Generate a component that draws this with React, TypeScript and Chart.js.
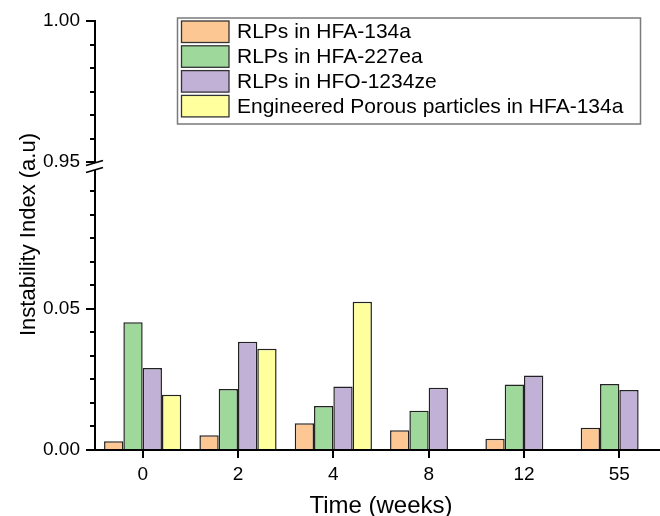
import React, { useEffect, useRef } from 'react';
import { Chart, registerables } from 'chart.js';

Chart.register(...registerables);

// ---- data ----
const categories = ['0', '2', '4', '8', '12', '55'];
const seriesLabels = [
  'RLPs in HFA-134a',
  'RLPs in HFA-227ea',
  'RLPs in HFO-1234ze',
  'Engineered Porous particles in HFA-134a',
];
const rlpHFA134a = [0.0031, 0.0052, 0.0095, 0.0070, 0.0040, 0.0079];
const rlpHFA227ea = [0.0453, 0.0216, 0.0156, 0.0139, 0.0232, 0.0234];
const rlpHFO1234ze = [0.0291, 0.0384, 0.0225, 0.0221, 0.0264, 0.0213];
const porousHFA134a = [0.0196, 0.0359, 0.0526, null, null, null];
const seriesColors = ['#FDC794', '#9ED89B', '#C1B1D7', '#FFFF9E'];

const lowerTicks = [0, 0.05];
const upperTicks = [0.95, 1.0];
const lowerRange = [0, 0.1021];
const upperRange = [0.95, 1.0];
const minorIntervals = 6; // minor subdivisions per 0.05

const xTitle = 'Time (weeks)';
const yTitle = 'Instability Index (a.u)';

const FONT = '"Liberation Sans", Arial, Helvetica, sans-serif';

const decorations = {
  id: 'decorations',
  afterDraw(chart: any) {
    const ctx = chart.ctx as CanvasRenderingContext2D;
    const yl = chart.scales.y;
    const yu = chart.scales.yTop;
    const ax = chart.chartArea.left;
    ctx.save();
    ctx.strokeStyle = '#000';
    ctx.lineWidth = 2;
    const step = 0.05 / minorIntervals;
    const line = (x1: number, y1: number, x2: number, y2: number) => {
      ctx.beginPath();
      ctx.moveTo(x1, y1);
      ctx.lineTo(x2, y2);
      ctx.stroke();
    };
    // minor ticks lower
    for (let k = 1; k < minorIntervals * 2; k++) {
      if (k % minorIntervals === 0) continue;
      const py = Math.round(yl.getPixelForValue(k * step));
      if (py < yl.top + 4) continue;
      line(ax - 5, py, ax, py);
    }
    // minor ticks upper
    for (let k = 1; k < minorIntervals; k++) {
      const py = Math.round(yu.getPixelForValue(upperRange[0] + k * step));
      line(ax - 5, py, ax, py);
    }
    // axis break
    const by = yl.top;
    ctx.fillStyle = '#fff';
    ctx.fillRect(ax - 3, by + 1, 5, 7);
    ctx.lineWidth = 1.8;
    line(ax - 9, by + 3.5, ax + 8, by - 1.5);
    line(ax - 9, by + 10.5, ax + 8, by + 5.5);

    // legend
    const lx = 177.5, ly = 18, lw = 463, lh = 106;
    ctx.lineWidth = 1.5;
    ctx.strokeStyle = '#7a7a7a';
    ctx.strokeRect(lx, ly, lw, lh);
    ctx.font = `21px ${FONT}`;
    ctx.textAlign = 'left';
    ctx.textBaseline = 'alphabetic';
    chart.data.datasets.forEach((ds: any, i: number) => {
      const top = 21 + 24.8 * i;
      ctx.fillStyle = ds.backgroundColor;
      ctx.fillRect(181.5, top, 47.5, 21.5);
      ctx.strokeStyle = '#333';
      ctx.lineWidth = 1.3;
      ctx.strokeRect(181.5, top, 47.5, 21.5);
      ctx.fillStyle = '#000';
      ctx.fillText(ds.label, 237, 37.5 + 25 * i);
    });

    // titles
    ctx.fillStyle = '#000';
    ctx.font = `24px ${FONT}`;
    ctx.textAlign = 'center';
    ctx.textBaseline = 'alphabetic';
    const ca = chart.chartArea;
    ctx.fillText(xTitle, (ca.left + ca.right) / 2, 513);
    ctx.font = `22px ${FONT}`;
    ctx.translate(35, 234.5);
    ctx.rotate(-Math.PI / 2);
    ctx.fillText(yTitle, 0, 0);
    ctx.restore();
  },
};

export default function App() {
  const ref = useRef<HTMLCanvasElement | null>(null);
  useEffect(() => {
    if (!ref.current) return;
    const seriesData = [rlpHFA134a, rlpHFA227ea, rlpHFO1234ze, porousHFA134a];
    const yCommon = (ticks: number[]) => ({
      type: 'linear' as const,
      position: 'left' as const,
      stack: 'broken',
      afterBuildTicks: (s: any) => {
        s.ticks = ticks.map((v) => ({ value: v }));
      },
      afterFit: (s: any) => {
        s.width = 95;
      },
      grid: {
        drawOnChartArea: false,
        drawTicks: true,
        tickLength: 9,
        color: '#000',
        lineWidth: 2,
      },
      border: { display: true, color: '#000', width: 2 },
      ticks: {
        padding: 6,
        color: '#000',
        font: { family: FONT, size: 19 },
        callback: (v: any) => Number(v).toFixed(2),
      },
    });
    const chart = new Chart(ref.current, {
      type: 'bar',
      data: {
        labels: categories,
        datasets: seriesData.map((d, i) => ({
          label: seriesLabels[i],
          data: d as any,
          backgroundColor: seriesColors[i],
          borderColor: '#222',
          borderWidth: 1.5,
          yAxisID: 'y',
          categoryPercentage: 0.81,
          barPercentage: 1,
        })),
      },
      options: {
        animation: false,
        responsive: false,
        maintainAspectRatio: false,
        layout: { padding: { left: 0, right: 13, top: 21, bottom: 0 } },
        plugins: { legend: { display: false }, tooltip: { enabled: false } },
        scales: {
          x: {
            type: 'category',
            offset: true,
            afterFit: (s: any) => {
              s.height = 66;
            },
            grid: {
              offset: false,
              drawOnChartArea: false,
              drawTicks: true,
              tickLength: 8,
              color: '#000',
              lineWidth: 2,
            },
            border: { display: true, color: '#000', width: 2 },
            ticks: {
              padding: 5,
              color: '#000',
              font: { family: FONT, size: 19 },
              maxRotation: 0,
            },
          },
          y: {
            ...yCommon(lowerTicks),
            min: lowerRange[0],
            max: lowerRange[1],
            stackWeight: 288,
          },
          yTop: {
            ...yCommon(upperTicks),
            min: upperRange[0],
            max: upperRange[1],
            stackWeight: 141,
          },
        } as any,
      },
      plugins: [decorations],
    });
    return () => chart.destroy();
  }, []);
  return (
    <div style={{ position: 'fixed', left: 0, top: 0, width: 680, height: 516, background: '#fff' }}>
      <canvas ref={ref} width={680} height={516} style={{ display: 'block' }} />
    </div>
  );
}
